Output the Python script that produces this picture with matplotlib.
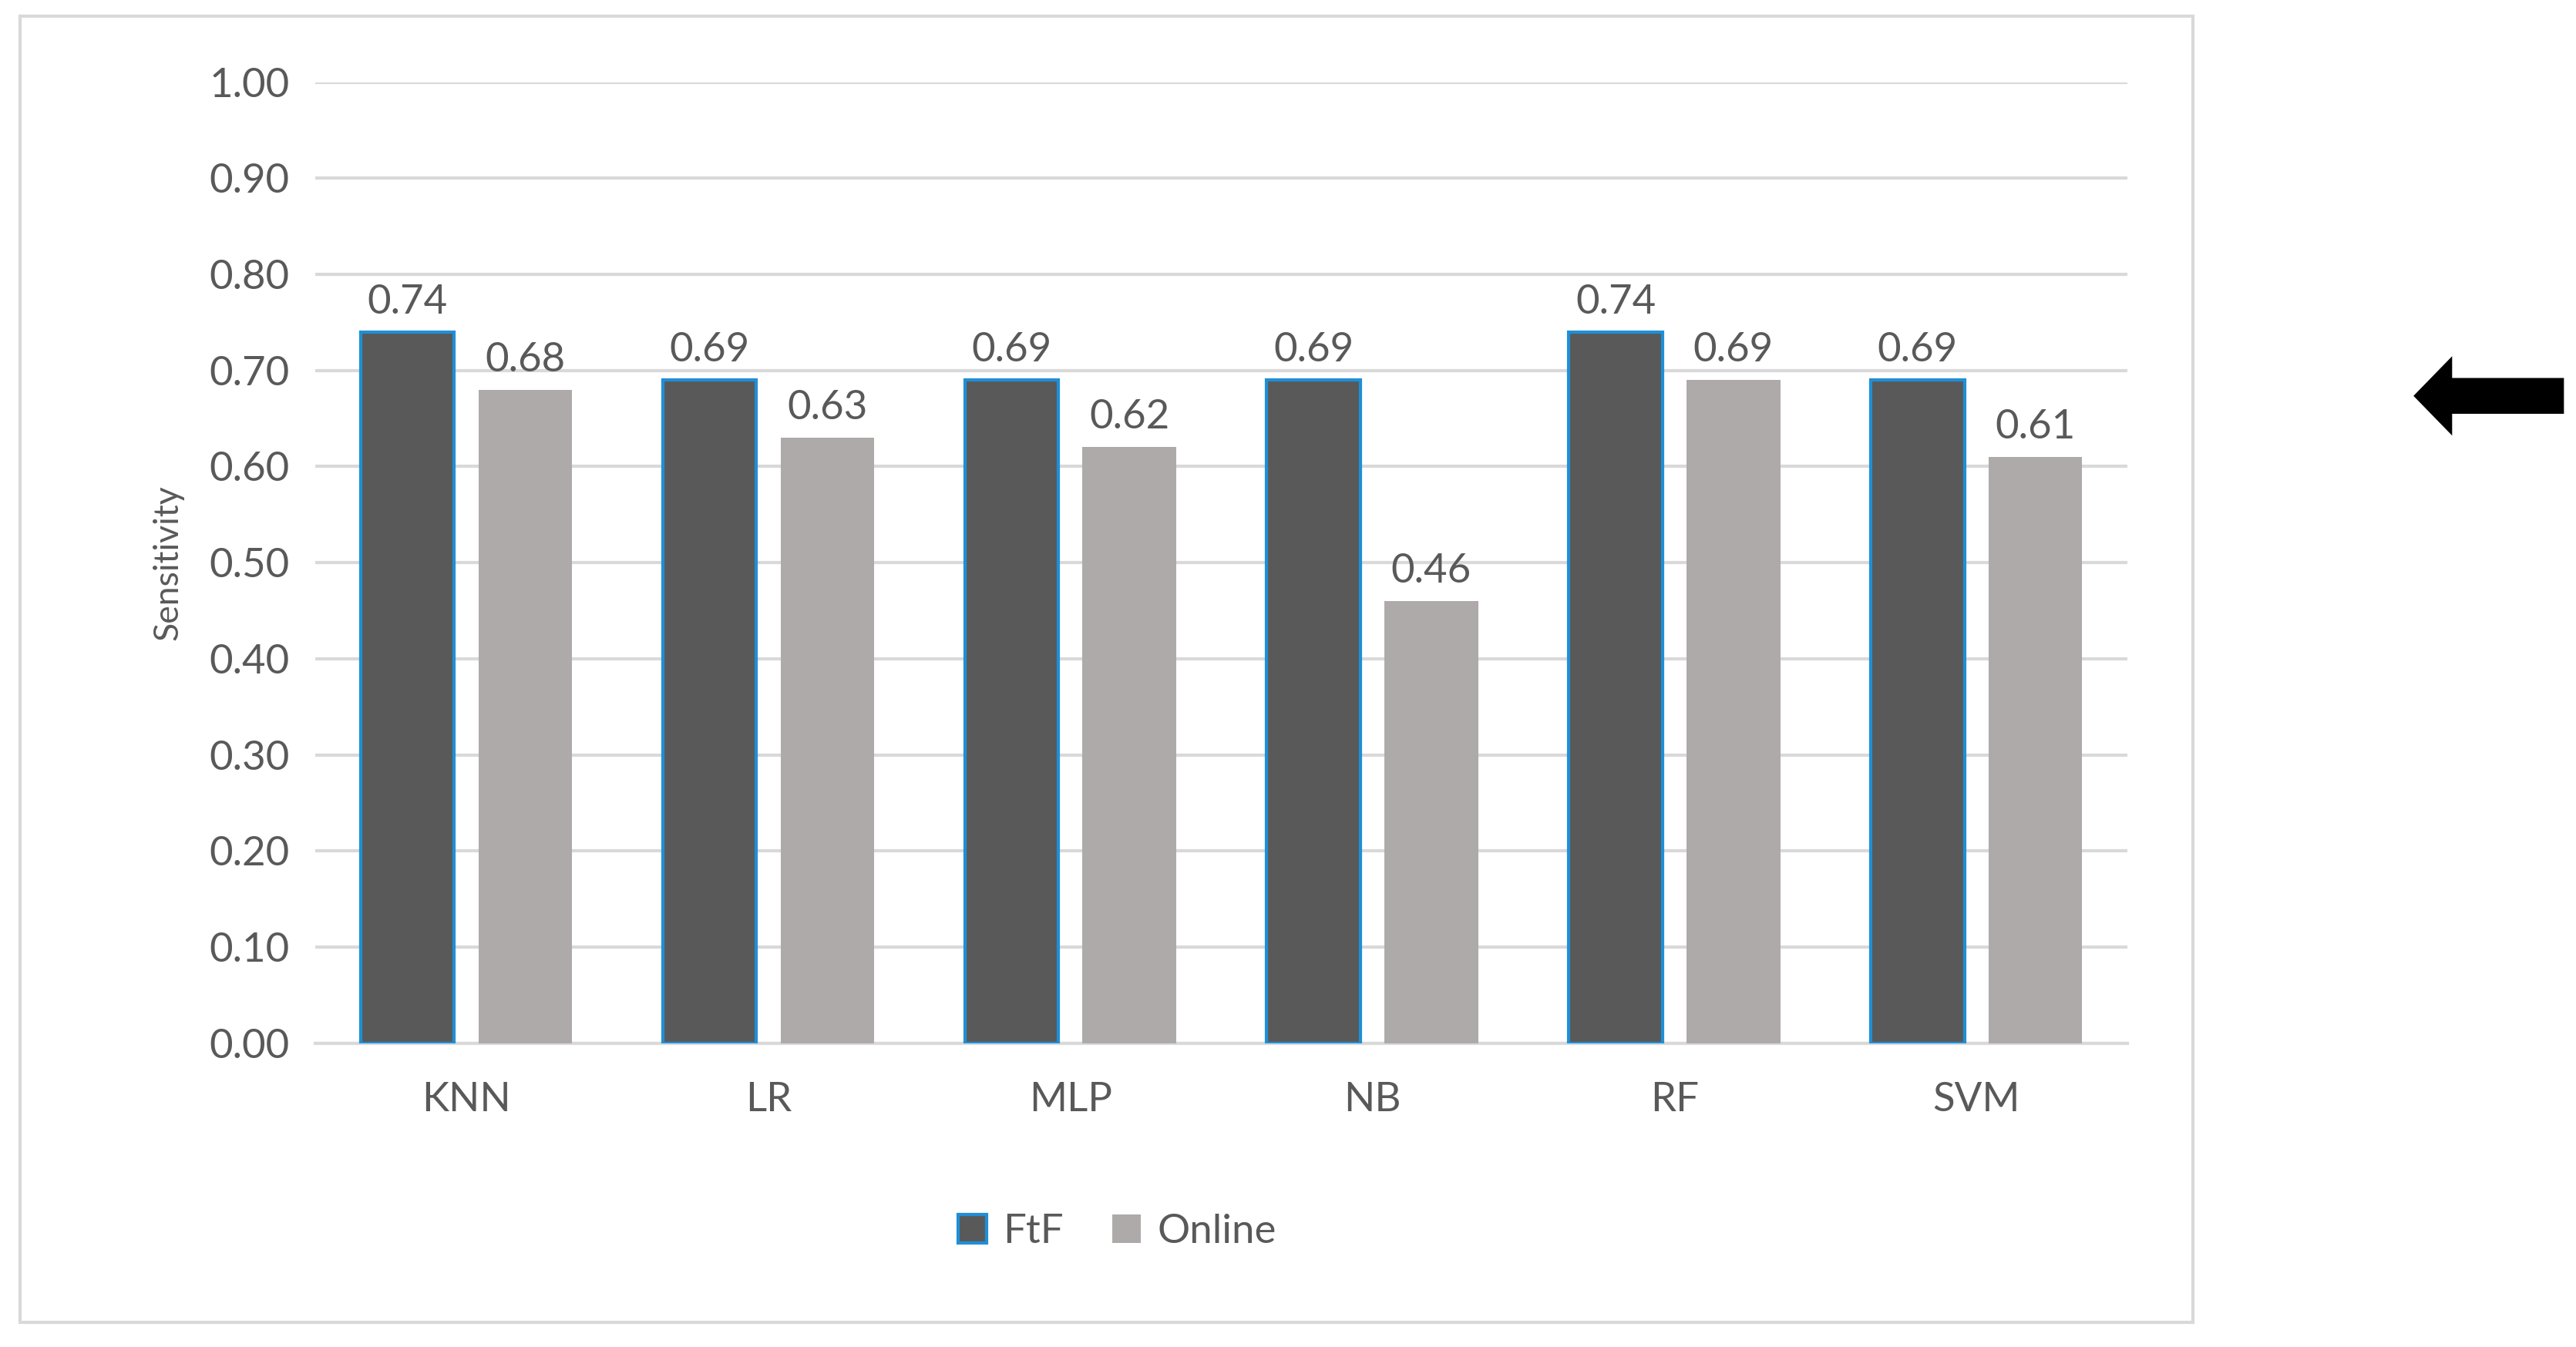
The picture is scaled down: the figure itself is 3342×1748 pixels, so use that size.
import matplotlib
matplotlib.use("Agg")
import matplotlib.pyplot as plt
from matplotlib.patches import Rectangle, FancyArrow

categories = ["KNN", "LR", "MLP", "NB", "RF", "SVM"]
ftf = [0.74, 0.69, 0.69, 0.69, 0.74, 0.69]
online = [0.68, 0.63, 0.62, 0.46, 0.69, 0.61]
yticks = [0.0, 0.1, 0.2, 0.3, 0.4, 0.5, 0.6, 0.7, 0.8, 0.9, 1.0]

plt.rcParams['font.family'] = ['Lato', 'DejaVu Sans']
txt = '#595959'
fig = plt.figure(figsize=(16.71, 8.74), dpi=200)
fig.patches.append(Rectangle((12/1568, 1-805/820), (1335-12)/1568, (805-10)/820,
                             transform=fig.transFigure, fill=False, ec='#d9d9d9', lw=1.5))
ax = fig.add_axes([192/1568, 1-635/820, (1295-192)/1568, (635-50)/820])
x = list(range(len(categories)))
w = 0.31
b1 = ax.bar([i - 0.195 for i in x], ftf, w, color='#595959', edgecolor='#1f8fd6', lw=1.5, label='FtF', zorder=3)
b2 = ax.bar([i + 0.195 for i in x], online, w, color='#AEAAAA', label='Online', zorder=3)
for bars in (b1, b2):
    for r in bars:
        ax.text(r.get_x() + r.get_width()/2, r.get_height() + 0.012, f"{r.get_height():.2f}",
                ha='center', va='bottom', fontsize=19, color=txt)
ax.set_xlim(-0.5, 5.5)
ax.set_ylim(0, 1.0)
ax.set_yticks(yticks)
ax.set_yticklabels([f"{v:.2f}" for v in yticks])
ax.set_xticks(x)
ax.set_xticklabels(categories)
ax.tick_params(axis='both', length=0, labelsize=19, colors=txt, pad=12)
ax.tick_params(axis='x', pad=18)
ax.yaxis.grid(True, color='#d9d9d9', lw=1.5, zorder=0)
for s in ['top', 'right', 'left']:
    ax.spines[s].set_visible(False)
ax.spines['bottom'].set_color('#d9d9d9')
ax.spines['bottom'].set_linewidth(1.5)
ax.set_ylabel('Sensitivity', fontsize=16, color=txt, labelpad=12)
leg = fig.legend(loc='center', bbox_to_anchor=(680/1568, 1-750/820), ncol=2, frameon=False,
                 fontsize=19, handlelength=0.7, handleheight=0.7, columnspacing=1.2, handletextpad=0.4)
for t in leg.get_texts():
    t.set_color(txt)
fig.patches.append(FancyArrow(1560/1568, 1-241/820, -90/1568, 0, width=0.025, head_width=0.055,
                              head_length=0.014, length_includes_head=True, color='black',
                              transform=fig.transFigure))
fig.savefig('out.png', dpi=200, facecolor='white')
